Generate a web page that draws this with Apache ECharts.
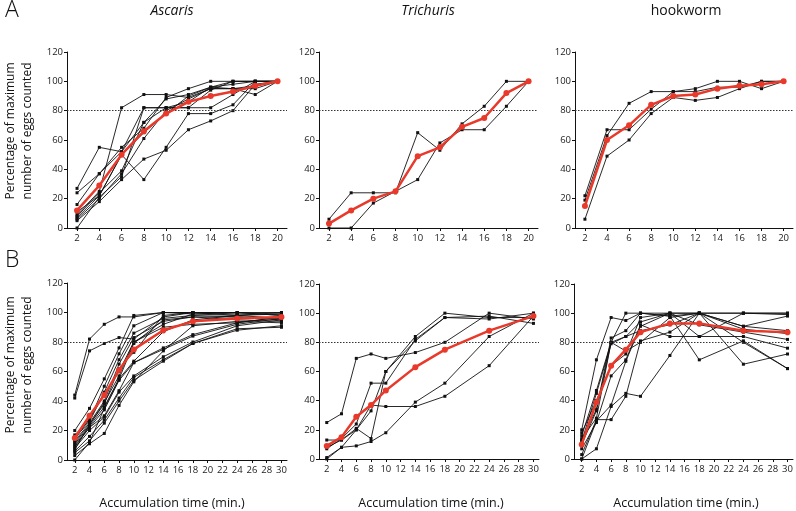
<!DOCTYPE html>
<html lang="en">
<head>
    <meta charset="UTF-8">
    <title>Egg accumulation</title>
    <script src="https://cdn.jsdelivr.net/npm/echarts@6.0.0/dist/echarts.min.js"></script>
</head>
<body style="margin:0;background:#fff">
    <div id="container" style="width:796px;height:511px"></div>
    <script type="text/javascript">
        // x values (minutes)
        var timesA = [2, 4, 6, 8, 10, 12, 14, 16, 18, 20];
        var timesB = [2, 4, 6, 8, 10, 14, 18, 24, 30];
        var ticksA = [2, 4, 6, 8, 10, 12, 14, 16, 18, 20];
        var ticksB = [2, 4, 6, 8, 10, 12, 14, 16, 18, 20, 22, 24, 26, 28, 30];
        var panelTitles = ['Ascaris', 'Trichuris', 'hookworm'];

        // A: individual samples + mean (red)
        var ascarisA = [
            [27, 55, 52, 72, 88, 91, 96, 100, 100, 100],
            [24, 37, 52, 82, 82, 82, 82, 91, 100, 100],
            [16, 37, 55, 68, 89, 95, 100, 100, 100, 100],
            [9, 25, 82, 91, 91, 89, 95, 95, 95, 100],
            [7, 22, 50, 33, 55, 78, 78, 84, 100, 100],
            [6, 20, 37, 61, 80, 88, 95, 95, 97, 100],
            [5, 18, 33, 47, 53, 67, 73, 80, 98, 100],
            [8, 24, 39, 72, 82, 86, 96, 98, 100, 100],
            [0, 21, 35, 82, 82, 82, 94, 100, 100, 100],
            [11, 22, 50, 65, 78, 90, 96, 95, 91, 100]
        ];
        var ascarisAMean = [12, 29, 50, 66, 78, 86, 90, 93, 97, 100];

        var trichurisA = [
            [6, 24, 24, 24, 65, 53, 71, 83, 100, 100],
            [0, 0, 17, 25, 33, 58, 67, 67, 83, 100]
        ];
        var trichurisAMean = [3, 12, 20, 25, 49, 55, 69, 75, 92, 100];

        var hookwormA = [
            [22, 67, 67, 81, 93, 95, 100, 100, 95, 100],
            [19, 63, 85, 93, 93, 93, 96, 96, 100, 100],
            [6, 49, 60, 78, 89, 87, 89, 95, 100, 100]
        ];
        var hookwormAMean = [15, 60, 70, 84, 90, 91, 95, 97, 98, 100];

        // B: individual samples + mean (red)
        var ascarisB = [
            [44, 82, 92, 97, 97, 100, 100, 100, 100],
            [42, 74, 79, 83, 82, 97, 100, 100, 98],
            [20, 35, 55, 76, 98, 100, 100, 99, 99],
            [17, 27, 50, 72, 91, 100, 99, 98, 100],
            [15, 26, 46, 68, 86, 96, 98, 97, 96],
            [13, 25, 40, 65, 83, 94, 97, 95, 94],
            [12, 24, 39, 57, 80, 92, 99, 100, 98],
            [11, 23, 36, 55, 67, 87, 95, 98, 99],
            [10, 22, 34, 54, 66, 76, 85, 93, 97],
            [9, 22, 30, 47, 66, 75, 84, 92, 96],
            [8, 20, 29, 46, 57, 70, 80, 91, 95],
            [6, 16, 27, 42, 56, 68, 79, 88, 91],
            [5, 13, 25, 40, 54, 67, 79, 89, 90],
            [3, 11, 18, 37, 53, 74, 91, 94, 93],
            [0, 12, 35, 55, 79, 95, 97, 97, 95],
            [14, 28, 45, 60, 80, 90, 92, 93, 97],
            [7, 24, 38, 62, 73, 98, 100, 98, 96]
        ];
        var ascarisBMean = [15, 30, 44, 61, 75, 88, 94, 96, 97];

        var trichurisB = [
            [25, 31, 69, 72, 69, 73, 80, 100, 96],
            [13, 13, 21, 14, 60, 84, 100, 97, 97],
            [7, 14, 24, 52, 52, 82, 97, 96, 100],
            [1, 8, 20, 33, 60, 81, 97, 98, 93],
            [0, 8, 9, 12, 18, 39, 52, 84, 100],
            [8, 13, 20, 37, 36, 36, 43, 64, 98]
        ];
        var trichurisBMean = [9, 15, 29, 37, 47, 63, 75, 88, 98];

        var hookwormB = [
            [0, 7, 36, 45, 43, 71, 100, 100, 99],
            [20, 68, 97, 95, 100, 98, 68, 81, 62],
            [16, 47, 80, 100, 100, 100, 100, 100, 100],
            [13, 34, 83, 88, 100, 98, 100, 91, 88],
            [14, 28, 80, 84, 94, 100, 92, 87, 82],
            [7, 25, 57, 68, 92, 84, 84, 84, 76],
            [3, 27, 27, 43, 81, 87, 100, 65, 72],
            [10, 33, 80, 74, 80, 97, 100, 80, 62],
            [18, 40, 64, 72, 97, 100, 84, 100, 100],
            [0, 26, 37, 67, 91, 100, 100, 89, 86],
            [12, 45, 79, 84, 88, 92, 100, 91, 98]
        ];
        var hookwormBMean = [10, 39, 64, 75, 87, 93, 93, 88, 87];

        var dom = document.getElementById('container');
        var myChart = echarts.init(dom);
        var font = 'Open Sans';

        var panels = [
            { lines: ascarisA, mean: ascarisAMean, times: timesA, ticks: ticksA, grid: { left: 67, top: 52, width: 220, height: 176 } },
            { lines: trichurisA, mean: trichurisAMean, times: timesA, ticks: ticksA, grid: { left: 319, top: 52, width: 219, height: 176 } },
            { lines: hookwormA, mean: hookwormAMean, times: timesA, ticks: ticksA, grid: { left: 575, top: 52, width: 218, height: 176 } },
            { lines: ascarisB, mean: ascarisBMean, times: timesB, ticks: ticksB, grid: { left: 67, top: 283, width: 220, height: 177 } },
            { lines: trichurisB, mean: trichurisBMean, times: timesB, ticks: ticksB, grid: { left: 319, top: 284, width: 220, height: 175 } },
            { lines: hookwormB, mean: hookwormBMean, times: timesB, ticks: ticksB, grid: { left: 574, top: 284, width: 219, height: 175 } }
        ];

        var grids = [], xAxes = [], yAxes = [], series = [];
        panels.forEach(function (p, k) {
            var isA = k < 3;
            grids.push(p.grid);
            xAxes.push({
                type: 'value', gridIndex: k,
                min: isA ? 1.1 : 0.95, max: isA ? 20.85 : 30.75,
                splitLine: { show: false },
                axisLine: { lineStyle: { color: '#111', width: 1 } },
                axisTick: { length: 3, customValues: p.ticks, lineStyle: { color: '#111' } },
                axisLabel: { customValues: p.ticks, fontSize: 9.5, color: '#222', fontFamily: font, margin: 5 }
            });
            yAxes.push({
                type: 'value', gridIndex: k, min: 0, max: 120, interval: 20,
                splitLine: { show: false },
                axisLine: { show: true, lineStyle: { color: '#111', width: 1 } },
                axisTick: { show: true, length: 3, lineStyle: { color: '#111' } },
                axisLabel: { fontSize: 9.5, color: '#222', fontFamily: font, margin: 4 }
            });
            p.lines.forEach(function (vals) {
                series.push({
                    type: 'line', xAxisIndex: k, yAxisIndex: k,
                    data: p.times.map(function (t, i) { return [t, vals[i]]; }),
                    symbol: 'rect', symbolSize: 3, showSymbol: true,
                    lineStyle: { color: '#111', width: 0.9 },
                    itemStyle: { color: '#111' },
                    silent: true, z: 2
                });
            });
            series.push({
                type: 'line', xAxisIndex: k, yAxisIndex: k,
                data: p.times.map(function (t, i) { return [t, p.mean[i]]; }),
                symbol: 'circle', symbolSize: 6,
                lineStyle: { color: '#e8392b', width: 2.5 },
                itemStyle: { color: '#e8392b' },
                silent: true, z: 5,
                markLine: {
                    silent: true, symbol: 'none',
                    label: { show: false },
                    lineStyle: { color: '#333', type: [1.5, 1.5], width: 1 },
                    data: [{ yAxis: 80 }]
                }
            });
        });

        var graphics = [
            { type: 'text', left: 5, top: -1, style: { text: 'A', font: '300 23px "' + font + '"', fill: '#111' } },
            { type: 'text', left: 5, top: 249, style: { text: 'B', font: '300 23px "' + font + '"', fill: '#111' } }
        ];
        var titleX = [172, 428, 686];
        panelTitles.forEach(function (t, i) {
            graphics.push({
                type: 'text', x: titleX[i], y: 11,
                style: { text: t, font: (i < 2 ? 'italic ' : '') + '14px "' + font + '"', fill: '#111', textAlign: 'center', textVerticalAlign: 'middle' }
            });
        });
        [131, 365].forEach(function (cy) {
            graphics.push({
                type: 'text', x: 19.5, y: cy, rotation: Math.PI / 2,
                style: { text: 'Percentage of maximum\nnumber of eggs counted', font: '12px "' + font + '"', lineHeight: 17, fill: '#111', textAlign: 'center', textVerticalAlign: 'middle' }
            });
        });
        [172, 431, 686].forEach(function (cx) {
            graphics.push({
                type: 'text', x: cx, y: 503,
                style: { text: 'Accumulation time (min.)', font: '12.5px "' + font + '"', fill: '#111', textAlign: 'center', textVerticalAlign: 'middle' }
            });
        });

        var option = {
            animation: false,
            grid: grids,
            xAxis: xAxes,
            yAxis: yAxes,
            series: series,
            graphic: graphics
        };
        myChart.setOption(option);
    </script>
</body>
</html>
